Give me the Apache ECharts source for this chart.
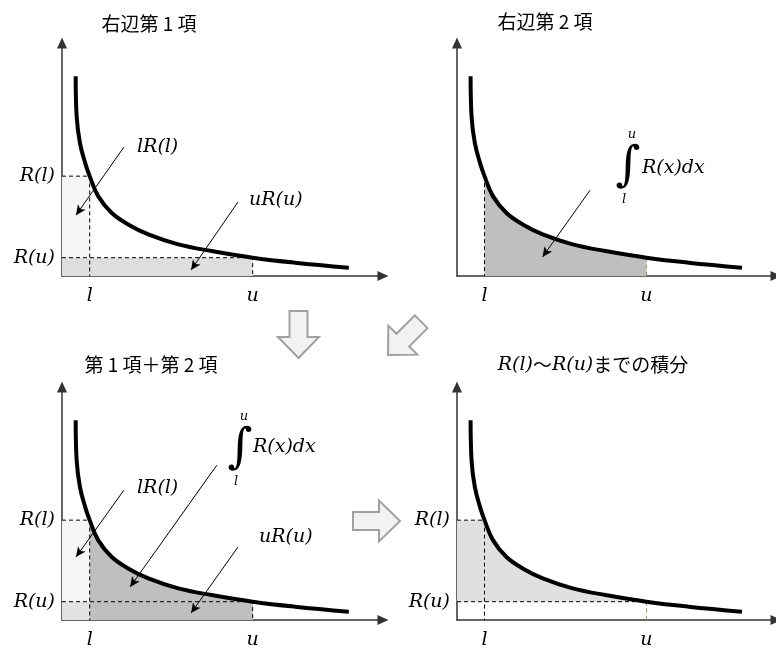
<!DOCTYPE html>
<html>
<head>
<meta charset="utf-8">
<script src="https://cdn.jsdelivr.net/npm/echarts@6/dist/echarts.min.js"></script>
<style>
html, body { margin: 0; padding: 0; background: #fff; }
#chart { width: 776px; height: 651px; }
</style>
</head>
<body>
<div id="chart"></div>
<script>
// the curve R(x)
const curveX = [4.2, 4.5, 5.5, 7.1, 8.5, 11.1, 15.2, 20.3, 26.5, 35.7, 45.9, 58.5, 71.5, 88];
const curveY = [84, 67, 56, 47.6, 42, 33.6, 26.6, 21.7, 17.5, 13.3, 10.5, 7.7, 5.6, 3.5];
// l, u and R(u), R(l)
const xTicks = [8.5, 58.5];
const xTickLabels = ['l', 'u'];
const yTicks = [7.7, 42];
const yTickLabels = ['R(u)', 'R(l)'];
const titles = ['右辺第 1 項', '右辺第 2 項', '第 1 項＋第 2 項'];

const lo = xTicks[0], up = xTicks[1], rUp = yTicks[0], rLo = yTicks[1];
const curve = curveX.map((x, i) => [x, curveY[i]]);
const between = curve.filter(p => p[0] >= lo && p[0] <= up);

const chart = echarts.init(document.getElementById('chart'));

const origins = [[62, 276], [457, 276], [62, 620], [457, 620]];
const W = 321, H = 233;
const serif = '"DejaVu Serif"';

let grids = [], xAxes = [], yAxes = [], series = [];

origins.forEach((o, i) => {
    grids.push({ left: o[0], top: o[1] - H, width: W, height: H });
    let axisLine = {
        symbol: ['none', 'triangle'],
        symbolSize: [10, 11],
        lineStyle: { color: '#333', width: 1.5 }
    };
    xAxes.push({
        gridIndex: i, type: 'value', min: 0, max: 98.5,
        axisLine: axisLine, axisTick: { show: false }, splitLine: { show: false },
        axisLabel: {
            customValues: xTicks,
            formatter: v => xTickLabels[xTicks.indexOf(v)],
            fontFamily: serif, fontStyle: 'italic', fontSize: 19, color: '#000', margin: 11
        }
    });
    yAxes.push({
        gridIndex: i, type: 'value', min: 0, max: 98,
        axisLine: axisLine, axisTick: { show: false }, splitLine: { show: false },
        axisLabel: {
            show: i !== 1,
            customValues: yTicks,
            formatter: v => yTickLabels[yTicks.indexOf(v)],
            fontFamily: serif, fontStyle: 'italic', fontSize: 19, color: '#000', margin: 7
        }
    });
});

function curveSeries(i) {
    return {
        type: 'line', xAxisIndex: i, yAxisIndex: i, data: curve,
        smooth: 0.4, symbol: 'none', z: 4,
        lineStyle: { color: '#000', width: 4 }
    };
}

function dashed(i, pts, color) {
    return {
        type: 'line', xAxisIndex: i, yAxisIndex: i, data: pts,
        symbol: 'none', z: 3,
        lineStyle: { color: color || '#000', width: 1, type: [4, 3] }
    };
}

function areaSeries(i, color, origin) {
    return {
        type: 'line', xAxisIndex: i, yAxisIndex: i, data: between,
        smooth: 0.4, symbol: 'none', z: 2,
        lineStyle: { width: 0 },
        areaStyle: { color: color, opacity: 1, origin: origin }
    };
}

function rects(i, list) {
    return {
        type: 'line', xAxisIndex: i, yAxisIndex: i, data: [], z: 1,
        markArea: {
            silent: true,
            data: list.map(r => [
                { coord: [r[0], r[1]], itemStyle: { color: r[4], borderWidth: 0 } },
                { coord: [r[2], r[3]] }
            ])
        }
    };
}

function pointers(i, list) {
    return {
        type: 'line', xAxisIndex: i, yAxisIndex: i, data: [], z: 5,
        markLine: {
            silent: true,
            symbol: ['none', 'arrow'],
            symbolSize: [7, 10],
            label: { show: false },
            lineStyle: { color: '#000', width: 1, type: 'solid' },
            data: list.map(a => [{ coord: [a[0], a[1]] }, { coord: [a[2], a[3]] }])
        }
    };
}

// panel 1
series.push(
    rects(0, [[0, 0, lo, rLo, '#f6f6f6'], [0, 0, up, rUp, '#dedede']]),
    dashed(0, [[0, rLo], [lo, rLo], [lo, 0]]),
    dashed(0, [[0, rUp], [up, rUp], [up, 0]]),
    curveSeries(0),
    pointers(0, [[19, 54.2, 4.3, 25.6], [54, 31.1, 39.6, 2.5]])
);
// panel 2
series.push(
    areaSeries(1, '#bfbfbf', 0),
    dashed(1, [[lo, rLo], [lo, 0]]),
    dashed(1, [[up, rUp], [up, 0]], '#70ad47'),
    curveSeries(1),
    pointers(1, [[41.1, 36.1, 26.4, 8]])
);
// panel 3
series.push(
    rects(2, [[0, 0, lo, rLo, '#f6f6f6'], [0, 0, up, rUp, '#e2e2e2']]),
    areaSeries(2, '#bfbfbf', 0),
    dashed(2, [[0, rLo], [lo, rLo], [lo, 0]]),
    dashed(2, [[0, rUp], [up, rUp], [up, 0]]),
    curveSeries(2),
    pointers(2, [[19, 54.6, 4.3, 26.5], [47.5, 65.1, 20.9, 13.9], [54, 30.7, 39.6, 2.9]])
);
// panel 4
series.push(
    rects(3, [[0, rUp, lo, rLo, '#e0e0e0']]),
    areaSeries(3, '#e0e0e0', rUp),
    dashed(3, [[0, rLo], [lo, rLo], [lo, 0]]),
    dashed(3, [[0, rUp], [up, rUp]]),
    dashed(3, [[up, rUp], [up, 0]], '#70ad47'),
    curveSeries(3)
);

function txt(x, y, text, font, align) {
    return {
        type: 'text', x: x, y: y, z: 10,
        style: { text: text, font: font, fill: '#000', align: align || 'left', verticalAlign: 'middle' }
    };
}

function integral(cx, cy, tx, ty) {
    return [
        txt(cx, cy, '∫', '48px ' + serif, 'center'),
        txt(cx + 4, cy - 33, 'u', 'italic 13px ' + serif, 'center'),
        txt(cx - 4, cy + 32, 'l', 'italic 13px ' + serif, 'center'),
        txt(tx, ty, 'R(x)dx', 'italic 19px ' + serif)
    ];
}

const arrowShape = [[-47, -9], [-21, -9], [-21, -20.5], [0, 0], [-21, 20.5], [-21, 9], [-47, 9]];
function bigArrow(x, y, rot) {
    return {
        type: 'polygon', x: x, y: y, rotation: rot, z: 10,
        shape: { points: arrowShape },
        style: { fill: '#f2f2f2', stroke: '#a0a0a0', lineWidth: 2 }
    };
}

const titleFont = '19px "Noto Sans CJK JP"';
let graphic = [
    txt(149, 24, titles[0], titleFont, 'center'),
    txt(545, 22, titles[1], titleFont, 'center'),
    txt(151, 365, titles[2], titleFont, 'center'),
    {
        type: 'text', x: 593, y: 365, z: 10,
        style: {
            text: '{m|R(l)}〜{m|R(u)}までの積分',
            font: titleFont, fill: '#000', align: 'center', verticalAlign: 'middle',
            rich: { m: { font: 'italic 19px ' + serif } }
        }
    },
    txt(137, 147, 'lR(l)', 'italic 19px ' + serif),
    txt(249, 200, 'uR(u)', 'italic 19px ' + serif),
    txt(137, 488, 'lR(l)', 'italic 19px ' + serif),
    txt(259, 537, 'uR(u)', 'italic 19px ' + serif),
    bigArrow(298.5, 358, -Math.PI / 2),
    bigArrow(388, 355, -3 * Math.PI / 4),
    bigArrow(400, 521, 0)
].concat(integral(628, 168, 642, 168), integral(240, 450, 253, 447));

chart.setOption({
    animation: false,
    grid: grids,
    xAxis: xAxes,
    yAxis: yAxes,
    series: series,
    graphic: graphic
});
</script>
</body>
</html>
